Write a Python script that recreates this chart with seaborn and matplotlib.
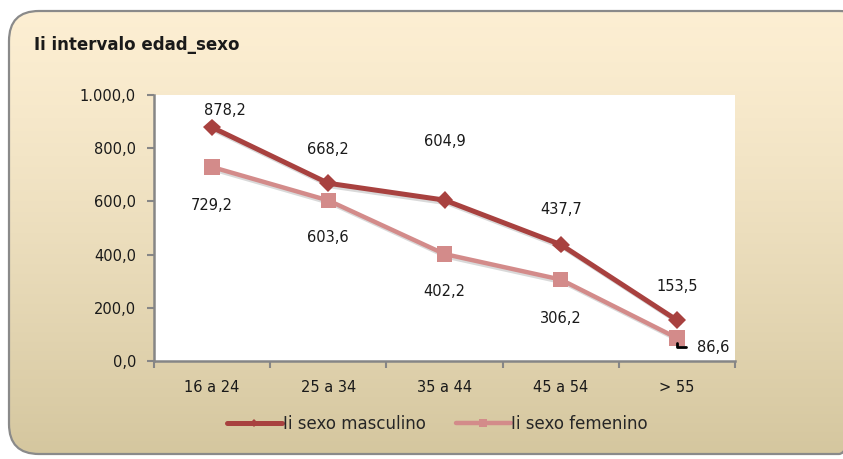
import numpy as np
import pandas as pd
import seaborn as sns
import matplotlib.pyplot as plt
import matplotlib.patheffects as pe
from matplotlib.patches import FancyBboxPatch

# Datos del gráfico
categorias = ['16 a 24', '25 a 34', '35 a 44', '45 a 54', '> 55']
masculino = [878.2, 668.2, 604.9, 437.7, 153.5]
femenino = [729.2, 603.6, 402.2, 306.2, 86.6]
y_ticks = [0, 200, 400, 600, 800, 1000]
titulo = 'Ii intervalo edad_sexo'
serie_m = 'Ii sexo masculino'
serie_f = 'Ii sexo femenino'

# desplazamiento de etiquetas (puntos)
off_m = [(9, 12), (0, 24), (0, 42), (0, 25), (0, 24)]
off_f = [(0, -28), (0, -27), (0, -27), (0, -28), (26, -7)]

def fmt_es(v, dec=1):
    s = f'{v:,.{dec}f}'
    return s.replace(',', 'X').replace('.', ',').replace('X', '.')

sns.set_theme(style='white')
plt.rcParams['font.family'] = ['DejaVu Sans']

col_m = '#A8413F'
col_f = '#D38B8A'
gris = '#868686'
txt = '#1a1a1a'

fig = plt.figure(figsize=(8.43, 4.59), dpi=100)
fig.patch.set_facecolor('white')

# fondo con degradado y esquinas redondeadas
bg = fig.add_axes([0, 0, 1, 1])
bg.set_xlim(0, 843)
bg.set_ylim(459, 0)
bg.axis('off')
caja = FancyBboxPatch((9, 11), 860, 443, boxstyle='round,pad=0,rounding_size=30',
                      facecolor='none', edgecolor='#8a8a8a', linewidth=1.6, zorder=3)
bg.add_patch(caja)
grad = np.linspace(0, 1, 256).reshape(-1, 1)
c_top = np.array([253, 239, 211]) / 255
c_bot = np.array([212, 198, 158]) / 255
img = c_top + (c_bot - c_top) * grad[..., None] ** 1.3
im = bg.imshow(img, extent=(0, 843, 459, 0), aspect='auto', zorder=1)
im.set_clip_path(caja)

fig.text(34 / 843, 1 - 45 / 459, titulo, fontsize=12, fontweight='bold',
         va='center', ha='left', color=txt)

ax = fig.add_axes([154 / 843, 98 / 459, (735 - 154) / 843, (361 - 95) / 459])
ax.set_facecolor('white')

df = pd.DataFrame({'grupo': categorias * 2,
                   'valor': masculino + femenino,
                   'serie': [serie_m] * 5 + [serie_f] * 5})

sombra = [pe.SimpleLineShadow(offset=(2, -2), alpha=0.15, shadow_color='black'), pe.Normal()]

sns.lineplot(data=df[df.serie == serie_m], x='grupo', y='valor', ax=ax, color=col_m,
             linewidth=3.6, marker='D', markersize=9, markeredgewidth=0,
             label=serie_m, sort=False)
sns.lineplot(data=df[df.serie == serie_f], x='grupo', y='valor', ax=ax, color=col_f,
             linewidth=3.2, marker='s', markersize=11, markeredgewidth=0,
             label=serie_f, sort=False)
for ln in ax.lines:
    ln.set_path_effects(sombra)

for i, (v, o) in enumerate(zip(masculino, off_m)):
    ax.annotate(fmt_es(v), (i, v), xytext=o, textcoords='offset points',
                ha='center', va='center', fontsize=10.5, color=txt)
for i, (v, o) in enumerate(zip(femenino, off_f)):
    ax.annotate(fmt_es(v), (i, v), xytext=o, textcoords='offset points',
                ha='center', va='center', fontsize=10.5, color=txt)

# linea guia de la ultima etiqueta
ax.annotate('', xy=(4.0, femenino[4] - 10), xytext=(4.1, femenino[4] - 33),
            arrowprops=dict(arrowstyle='-', color='black', lw=2,
                            connectionstyle='angle,angleA=0,angleB=90,rad=0'))

ax.set_xlim(-0.5, 4.5)
ax.set_ylim(0, 1000)
ax.set_yticks(y_ticks)
ax.set_yticklabels([fmt_es(t) for t in y_ticks], fontsize=10.5, color=txt)
ax.set_xticks(range(len(categorias)))
ax.set_xticklabels(categorias, fontsize=10.5, color=txt)
ax.set_xticks(np.arange(-0.5, 5, 1), minor=True)
ax.tick_params(axis='x', which='major', length=0, pad=14)
ax.tick_params(axis='x', which='minor', length=5, width=1.5, color=gris, direction='out', bottom=True)
ax.tick_params(axis='y', length=5, width=1.5, color=gris, direction='out', left=True, pad=8)
ax.set_xlabel('')
ax.set_ylabel('')
for s in ['top', 'right']:
    ax.spines[s].set_visible(False)
for s in ['left', 'bottom']:
    ax.spines[s].set_color(gris)
    ax.spines[s].set_linewidth(1.8)

leg = ax.legend(loc='center', bbox_to_anchor=(0.488, -0.235), ncol=2, frameon=False,
                fontsize=12, handlelength=3.3, handletextpad=0.05, columnspacing=1.8,
                markerscale=0.5)
for h in leg.get_lines():
    h.set_path_effects([])

fig.savefig('out.png', dpi=100, facecolor=fig.get_facecolor())
